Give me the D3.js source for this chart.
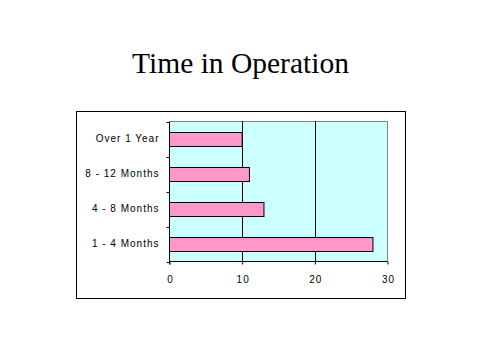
<!DOCTYPE html>
<html><head><meta charset="utf-8">
<script src="https://cdn.jsdelivr.net/npm/d3@7"></script>
<style>body{margin:0;background:#fff}svg{display:block}</style>
</head><body>
<script>
const categories = ["1 - 4 Months", "4 - 8 Months", "8 - 12 Months", "Over 1 Year"];
const values = [28, 13, 11, 10];
const xTicks = [0, 10, 20, 30];
const title = "Time in Operation";

const W = 480, H = 360;
const svg = d3.select("body").append("svg").attr("width", W).attr("height", H);
svg.append("rect").attr("width", W).attr("height", H).attr("fill", "#fff");

svg.append("text").attr("x", 240.5).attr("y", 73).attr("text-anchor", "middle")
  .attr("font-family", "Liberation Serif, Times New Roman, serif").attr("font-size", 29.5)
  .attr("fill", "#000").text(title);

svg.append("rect").attr("x", 76.5).attr("y", 111.5).attr("width", 329).attr("height", 187)
  .attr("fill", "#fff").attr("stroke", "#000");

const L = 169.5, R = 387.5, T = 121.5, B = 261.5;
const x = d3.scaleLinear().domain([0, 30]).range([L, R]);
const y = d3.scaleBand().domain(categories.slice().reverse()).range([T, B]).paddingInner(0.6).paddingOuter(0.3);

svg.append("rect").attr("x", L).attr("y", T).attr("width", R - L).attr("height", B - T)
  .attr("fill", "#ccffff");
svg.append("path").attr("d", `M${L},${T}H${R}V${B}`).attr("fill", "none").attr("stroke", "#808080");

svg.selectAll("line.grid").data(xTicks.filter(t => t > 0 && t < 30)).enter().append("line")
  .attr("x1", d => Math.round(x(d)) + 0.5).attr("x2", d => Math.round(x(d)) + 0.5)
  .attr("y1", T).attr("y2", B).attr("stroke", "#000");

svg.selectAll("rect.bar").data(categories).enter().append("rect")
  .attr("x", L).attr("y", d => Math.round(y(d)) + 0.5)
  .attr("width", (d, i) => x(values[i]) - L).attr("height", Math.round(y.bandwidth()))
  .attr("fill", "#ff99cc").attr("stroke", "#000");

const xAxis = d3.axisBottom(x).tickValues(xTicks).tickSize(3).tickPadding(11);
const gx = svg.append("g").attr("transform", `translate(0,${B})`).call(xAxis);
gx.select(".domain").attr("stroke", "#000").attr("d", `M${L},0H${R}`);
gx.selectAll("text").attr("font-family", "Liberation Sans, Arial, sans-serif").attr("font-size", 10)
  .attr("letter-spacing", "1px").attr("dx", "0.5").attr("fill", "#000");

const gy = svg.append("g").attr("transform", `translate(${L},0)`);
gy.append("line").attr("x1", 0).attr("x2", 0).attr("y1", T).attr("y2", B + 3).attr("stroke", "#000");
const bounds = d3.range(categories.length + 1).map(i => T + i * (B - T) / categories.length);
gy.selectAll("line.tk").data(bounds).enter().append("line")
  .attr("x1", -3).attr("x2", 0).attr("y1", d => Math.round(d) + 0.5).attr("y2", d => Math.round(d) + 0.5)
  .attr("stroke", "#000");
gy.selectAll("text.lab").data(categories).enter().append("text")
  .attr("x", -10).attr("y", d => y(d) + y.bandwidth() / 2 - 0.5).attr("dy", "0.35em")
  .attr("text-anchor", "end").attr("font-family", "Liberation Sans, Arial, sans-serif")
  .attr("letter-spacing", "1px")
  .attr("font-size", 10).attr("fill", "#000").text(d => d);
</script>
</body></html>
